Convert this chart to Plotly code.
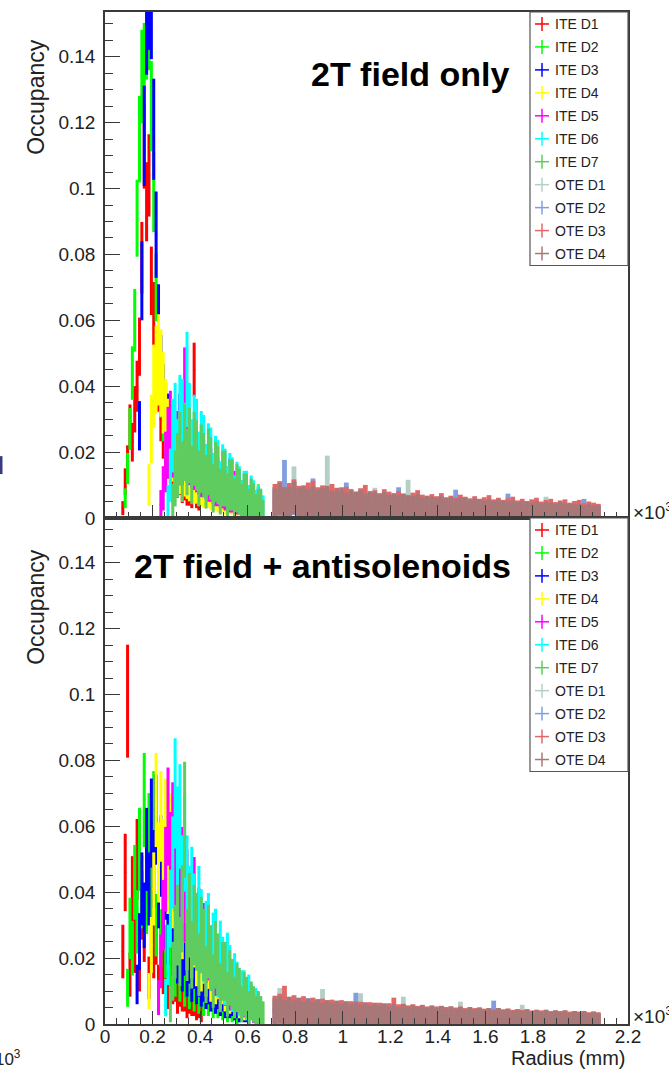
import math
import plotly.graph_objects as go

# ---------------- data (occupancy in units of 1e-3, radius in mm) ----------------
NAMES = ["ITE D1", "ITE D2", "ITE D3", "ITE D4", "ITE D5", "ITE D6", "ITE D7",
         "OTE D1", "OTE D2", "OTE D3", "OTE D4"]
COLORS = ["#ff0000", "#00ff00", "#0000ff", "#ffff00", "#ff00ff", "#00ffff", "#5fcc5f",
          "#b4cfc6", "#7f9fe0", "#e06868", "#a87878"]
BIN_MM = [10, 10, 10, 10, 10, 10, 10, 20, 20, 20, 20]

# ---- panel 1: 2T field only ----
TOP_START = [75, 85, 145, 185, 235, 265, 285, 715, 715, 715, 715]
T_ITE_D1 = [3, 11, 17, 28, 23, 33, 40, 52, 79, 113, 96, 104, 72, 62, 47, 40, 30, 24, 21, 17, 15, 13, 12, 10, 11, 8, 9, 7, 7, 6, 45, 6, 5]
T_ITE_D2 = [6, 15, 27, 44, 60, 91, 115, 134, 136, 148, 151, 125, 99, 70, 52, 38, 30, 24, 20, 18, 16, 15, 14, 14, 12, 13, 11, 12, 10, 11, 9, 10, 10, 8, 15, 9, 8, 8, 7, 7, 8, 6, 7, 6, 6, 5, 6, 5, 4, 5, 4, 4, 4, 3, 4, 3, 7, 3]
T_ITE_D3 = [28, 72, 116, 152, 160, 157, 118, 86, 60, 46, 38, 33, 30, 27, 26, 24, 23, 30, 21, 20, 19, 18, 17, 21, 25, 16, 15, 15, 14, 13, 13, 12, 17, 11, 11, 10, 10, 9, 13, 8, 8, 8, 7, 7, 6, 6, 6, 5, 5, 5, 6, 4]
T_ITE_D4 = [10, 27, 40, 45, 48, 44, 38, 31, 26, 22, 20, 18, 17, 15, 14, 14, 13, 12, 12, 11, 11, 10, 10, 9, 9, 9, 8, 8, 8, 7, 7, 7, 6, 6, 6, 6, 5, 5, 5, 5, 4, 4, 4, 4, 3, 3, 3, 3]
T_ITE_D5 = [4, 9, 17, 23, 27, 23, 21, 22, 24, 20, 38, 21, 20, 19, 18, 17, 16, 15, 15, 14, 13, 13, 12, 11, 11, 10, 10, 9, 9, 8, 8, 8, 7, 7, 6, 6, 6, 5, 5, 5, 4, 4, 3]
T_ITE_D6 = [5, 13, 25, 29, 20, 31, 30, 24, 42, 29, 20, 26, 25, 17, 22, 21, 14, 19, 18, 12, 16, 15, 10, 14, 13, 9, 12, 11, 7, 10, 9, 6, 8, 8, 5, 7, 6, 4, 5, 4, 3]
T_ITE_D7 = [5, 12, 16, 21, 14, 23, 17, 22, 13, 21, 19, 12, 18, 16, 11, 17, 15, 9, 14, 13, 8, 12, 12, 7, 10, 10, 6, 9, 8, 5, 7, 7, 4, 6, 5, 3, 4, 4, 2]
T_OTE_D1 = [4.0, 5.5, 3.8, 4.6, 9.5, 4.2, 3.6, 4.8, 3.9, 4.4, 3.5, 12.0, 3.9, 3.2, 4.1, 3.4, 3.0, 3.8, 3.3, 2.9, 3.6, 4.8, 3.0, 2.7, 3.4, 2.8, 3.2, 2.6, 6.5, 2.9, 2.5, 3.1, 2.6, 2.4, 2.9, 2.3, 2.7, 2.4, 2.2, 2.6, 2.1, 2.5, 2.2, 2.0, 2.4, 2.1, 1.9, 2.3, 2.0, 1.8, 2.2, 1.9, 1.7, 2.1, 1.8, 1.6, 2.0, 3.0, 1.7, 1.5, 1.9, 1.6, 1.5, 1.8, 1.4, 1.6, 1.3, 1.5, 1.2]
T_OTE_D2 = [5.0, 4.2, 11.0, 4.8, 5.6, 4.1, 4.9, 3.8, 6.8, 4.5, 3.7, 4.3, 3.6, 4.0, 3.4, 5.9, 3.5, 3.2, 3.9, 3.1, 3.6, 3.0, 3.4, 2.9, 3.3, 2.8, 4.9, 2.7, 3.1, 2.6, 3.0, 2.6, 2.9, 2.5, 2.8, 2.4, 2.7, 2.3, 4.4, 2.2, 2.6, 2.1, 2.5, 2.1, 2.4, 2.0, 2.3, 1.9, 2.2, 3.6, 1.9, 2.1, 1.8, 2.0, 1.7, 1.9, 1.7, 1.8, 1.6, 1.8, 1.5, 1.7, 1.5, 1.6, 1.4, 2.6, 1.4, 1.5, 1.3]
T_OTE_D3 = [5.6, 6.2, 4.9, 5.8, 6.6, 5.2, 4.7, 5.9, 6.3, 4.9, 5.3, 4.5, 5.6, 4.8, 4.2, 5.0, 4.4, 4.0, 4.7, 5.4, 3.9, 4.3, 3.7, 4.5, 4.0, 3.5, 4.1, 3.6, 3.2, 3.8, 4.3, 3.4, 3.0, 3.5, 3.1, 3.7, 2.9, 3.2, 2.8, 3.4, 3.0, 2.7, 3.1, 2.6, 2.9, 3.3, 2.5, 2.8, 2.4, 2.7, 3.0, 2.3, 2.6, 2.2, 2.5, 2.8, 2.1, 2.4, 2.6, 2.0, 2.3, 2.5, 1.9, 2.2, 2.4, 1.8, 2.1, 1.9, 1.7]
T_OTE_D4 = [4.6, 5.8, 4.9, 5.0, 6.1, 4.7, 5.3, 4.5, 5.1, 4.4, 4.8, 5.2, 4.1, 4.6, 4.9, 3.8, 4.5, 4.0, 4.3, 3.6, 4.1, 3.9, 3.5, 3.9, 3.4, 3.7, 3.2, 3.6, 3.3, 3.1, 3.5, 2.9, 3.2, 3.0, 2.8, 3.1, 2.7, 3.0, 2.6, 2.8, 2.9, 2.4, 2.7, 2.5, 2.3, 2.6, 2.2, 2.5, 2.3, 2.1, 2.4, 2.0, 2.2, 2.1, 1.9, 2.2, 1.8, 2.0, 1.9, 1.7, 2.0, 1.7, 1.8, 1.6, 1.7, 1.5, 1.6, 1.4, 1.5]
TOP_VALUES = [T_ITE_D1, T_ITE_D2, T_ITE_D3, T_ITE_D4, T_ITE_D5, T_ITE_D6, T_ITE_D7,
              T_OTE_D1, T_OTE_D2, T_OTE_D3, T_OTE_D4]
# per-series weight (per mille) used for sqrt(N)-style error bars
TOP_ERR_SCALE = [1.5, 1.5, 2.0, 4.0, 5.0, 5.0, 6.0, 4.0, 4.0, 4.0, 4.0]

# ---- panel 2: 2T field + antisolenoids ----
BOT_START = [75, 95, 135, 185, 225, 255, 275, 715, 715, 715, 715]
B_ITE_D1 = [22, 46, 98, 15, 40, 24, 50, 17, 36, 28, 43, 14, 31, 22, 27, 12, 23, 16, 19, 10, 16, 12, 13, 8, 11, 9, 9, 6, 8, 7, 7, 5, 6, 4]
B_ITE_D2 = [11, 29, 23, 43, 31, 53, 40, 68, 38, 57, 44, 63, 30, 45, 26, 33, 22, 29, 17, 23, 15, 20, 13, 18, 11, 15, 10, 14, 9, 12, 8, 11, 7, 10, 7, 9, 6, 8, 6, 7, 5, 7, 4, 6, 4, 5, 3, 4]
B_ITE_D3 = [12, 25, 41, 33, 53, 41, 61, 47, 62, 40, 51, 33, 43, 27, 35, 23, 30, 20, 27, 17, 23, 15, 20, 13, 18, 12, 15, 11, 13, 10, 12, 9, 11, 8, 10, 7, 9, 6, 8, 6, 7, 5, 6, 4, 5, 4, 4, 3]
B_ITE_D4 = [10, 24, 41, 68, 49, 63, 50, 61, 45, 57, 40, 47, 34, 41, 29, 35, 25, 30, 22, 26, 19, 23, 17, 20, 15, 18, 13, 15, 12, 14, 10, 12, 9, 11, 8, 10, 7, 9, 6, 8, 5, 6, 4, 5]
B_ITE_D5 = [8, 19, 33, 47, 63, 51, 59, 47, 53, 41, 47, 36, 41, 32, 36, 39, 29, 31, 25, 27, 21, 22, 18, 20, 16, 17, 14, 15, 12, 13, 10, 11, 9, 10, 8, 8, 7, 7, 6, 6, 4]
B_ITE_D6 = [8, 21, 35, 49, 70, 57, 63, 44, 55, 44, 36, 41, 34, 27, 36, 30, 22, 27, 29, 19, 24, 25, 16, 22, 18, 13, 19, 16, 10, 14, 12, 8, 10, 10, 6, 9, 7, 5, 6, 5, 4]
B_ITE_D7 = [6, 16, 25, 30, 22, 35, 62, 24, 33, 21, 30, 28, 18, 27, 24, 15, 25, 20, 13, 21, 18, 11, 16, 16, 9, 14, 12, 8, 11, 10, 6, 9, 8, 5, 7, 6, 4, 5, 4, 3]
B_OTE_D1 = [3.6, 6.0, 3.4, 4.1, 3.2, 3.8, 3.0, 3.5, 2.9, 3.3, 5.8, 3.1, 2.8, 3.2, 2.7, 3.0, 2.6, 2.9, 4.9, 2.7, 2.5, 2.8, 2.4, 2.6, 2.3, 2.5, 2.2, 4.2, 2.3, 2.1, 2.4, 2.0, 2.2, 1.9, 2.1, 1.8, 2.0, 1.8, 1.9, 3.2, 1.7, 1.9, 1.6, 1.8, 1.5, 1.7, 1.5, 1.6, 1.4, 1.6, 1.4, 1.5, 2.6, 1.3, 1.5, 1.3, 1.4, 1.2, 1.4, 1.2, 1.3, 1.1, 1.3, 1.1, 1.2, 1.0, 1.2, 1.0, 1.1]
B_OTE_D2 = [4.2, 3.8, 4.6, 3.5, 4.0, 3.6, 3.3, 3.9, 3.1, 3.6, 3.2, 3.4, 3.0, 3.3, 2.9, 3.1, 2.8, 5.0, 2.7, 2.9, 2.6, 2.8, 2.5, 2.7, 2.4, 2.6, 2.3, 2.5, 2.2, 2.4, 2.2, 2.3, 2.1, 2.3, 2.0, 2.2, 1.9, 2.1, 1.9, 2.0, 1.8, 1.9, 1.7, 1.9, 1.7, 1.8, 3.4, 1.7, 1.6, 1.7, 1.5, 1.6, 1.5, 1.6, 1.4, 1.5, 1.4, 1.5, 1.3, 1.4, 1.3, 1.4, 1.2, 1.3, 1.2, 1.3, 1.1, 1.2, 1.1]
B_OTE_D3 = [4.4, 4.8, 6.5, 4.1, 4.5, 3.9, 4.3, 3.7, 4.0, 3.5, 3.8, 3.4, 3.6, 3.2, 3.5, 3.1, 3.3, 3.0, 3.2, 2.9, 3.1, 2.8, 3.0, 2.7, 2.9, 4.0, 2.7, 2.8, 2.5, 2.7, 2.4, 2.6, 2.3, 2.5, 2.3, 2.4, 2.2, 2.3, 2.1, 2.3, 2.0, 2.2, 2.0, 2.1, 1.9, 2.0, 1.8, 2.0, 1.8, 1.9, 1.7, 1.8, 1.7, 1.8, 1.6, 1.7, 1.6, 1.7, 1.5, 1.6, 1.5, 1.6, 1.4, 1.5, 1.4, 1.5, 1.3, 1.4, 1.3]
B_OTE_D4 = [3.8, 4.3, 3.5, 4.2, 3.4, 4.0, 3.2, 3.8, 3.1, 3.7, 3.0, 3.5, 2.9, 3.4, 2.8, 3.3, 2.7, 3.2, 2.6, 3.1, 2.5, 3.0, 2.4, 2.9, 2.3, 2.8, 2.2, 2.7, 2.2, 2.6, 2.1, 2.5, 2.0, 2.4, 2.0, 2.4, 1.9, 2.3, 1.9, 2.2, 1.8, 2.1, 1.8, 2.1, 1.7, 2.0, 1.6, 2.0, 1.6, 1.9, 1.5, 1.8, 1.5, 1.8, 1.4, 1.7, 1.4, 1.7, 1.3, 1.6, 1.3, 1.6, 1.2, 1.5, 1.2, 1.5, 1.1, 1.4, 1.1]
BOT_VALUES = [B_ITE_D1, B_ITE_D2, B_ITE_D3, B_ITE_D4, B_ITE_D5, B_ITE_D6, B_ITE_D7,
              B_OTE_D1, B_OTE_D2, B_OTE_D3, B_OTE_D4]
BOT_ERR_SCALE = [3.0, 3.0, 3.0, 3.0, 3.5, 4.0, 5.0, 4.0, 4.0, 4.0, 4.0]

PANEL_TITLES = ["2T field only", "2T field + antisolenoids"]
X_TITLE = "Radius (mm)"
Y_TITLE = "Occupancy"

# ---------------- layout geometry ----------------
W, H = 669, 1069
ML, MR, MT, MB = 105, 41, 10, 45
PW, PH = W - ML - MR, H - MT - MB
FONT = "Liberation Sans, Arial, Helvetica, sans-serif"
AX = "#3a3a3a"
TXT = "#222222"


def px(x):
    return (x - ML) / PW


def py(y):
    return (H - MB - y) / PH


fig = go.Figure()

for values_set, starts, scales, xa, ya in [
    (TOP_VALUES, TOP_START, TOP_ERR_SCALE, "x", "y"),
    (BOT_VALUES, BOT_START, BOT_ERR_SCALE, "x2", "y2"),
]:
    for i, vals in enumerate(values_set):
        bw = BIN_MM[i]
        xs = [(starts[i] + bw * j) / 1000.0 for j in range(len(vals))]
        ys = [v / 1000.0 for v in vals]
        es = [math.sqrt(v * scales[i]) / 1000.0 for v in vals]
        thick = 3.0 if i < 7 else 4.8
        fig.add_trace(go.Scatter(
            x=xs, y=ys, mode="markers", xaxis=xa, yaxis=ya,
            name=NAMES[i], showlegend=False,
            marker=dict(size=2, color=COLORS[i]),
            error_y=dict(type="data", array=es, visible=True, width=0,
                         thickness=thick, color=COLORS[i]),
            error_x=dict(type="data", array=[bw / 2000.0] * len(vals), visible=True,
                         width=0, thickness=1.5, color=COLORS[i]),
            hoverinfo="skip",
        ))

xcommon = dict(range=[0, 2.2], tickmode="linear", tick0=0, dtick=0.2,
               ticks="inside", ticklen=13, tickwidth=1.3, tickcolor=AX,
               showline=True, linecolor=AX, linewidth=1.5, mirror=True,
               showgrid=False, zeroline=False,
               minor=dict(ticks="inside", ticklen=6, tickwidth=1, tickcolor=AX,
                          dtick=0.05, showgrid=False),
               tickfont=dict(family=FONT, size=19, color=TXT))
ycommon = dict(range=[0, 0.1536], tickmode="linear", tick0=0, dtick=0.02,
               ticks="inside", ticklen=15, tickwidth=1.3, tickcolor=AX,
               showline=True, linecolor=AX, linewidth=1.5, mirror=True,
               showgrid=False, zeroline=False, ticklabelstandoff=4,
               minor=dict(ticks="inside", ticklen=8, tickwidth=1, tickcolor=AX,
                          dtick=0.005, showgrid=False),
               tickfont=dict(family=FONT, size=19, color=TXT))

fig.update_layout(
    width=W, height=H,
    margin=dict(l=ML, r=MR, t=MT, b=MB, pad=0),
    paper_bgcolor="white", plot_bgcolor="white",
    showlegend=False,
    xaxis=dict(xcommon, anchor="y", domain=[0, 1], showticklabels=False),
    yaxis=dict(ycommon, anchor="x", domain=[0.5, 1]),
    xaxis2=dict(xcommon, anchor="y2", domain=[0, 1], showticklabels=True,
                ticklabelstandoff=-6),
    yaxis2=dict(ycommon, anchor="x2", domain=[0, 0.5]),
)

ann = []
shapes = []


def label(text, x, y, size, xanchor="center", angle=0, weight="normal", color=TXT):
    ann.append(dict(text=text, x=px(x), y=py(y), xref="paper", yref="paper",
                    xanchor=xanchor, yanchor="middle", textangle=angle, showarrow=False,
                    font=dict(family=FONT, size=size, color=color, weight=weight)))


# panel labels
label(PANEL_TITLES[0], 410, 72, 34, weight="bold", color="black")
label(PANEL_TITLES[1], 322, 565, 34, weight="bold", color="black")
# axis titles
label(Y_TITLE, 36, 95, 23, angle=-90)
label(Y_TITLE, 36, 606, 23, angle=-90)
label(X_TITLE, 627, 1058, 20, xanchor="right")
# x10^3 exponent labels
label("×10<sup>3</sup>", 631, 510, 19, xanchor="left")
label("×10<sup>3</sup>", 631, 1015, 19, xanchor="left")
label("×10<sup>3</sup>", 23, 1058, 17, xanchor="right")
# stray mark at left edge
shapes.append(dict(type="line", xref="paper", yref="paper", x0=px(1), x1=px(1),
                   y0=py(455), y1=py(473), line=dict(color="#3a3a80", width=3)))

# legends (one per panel)
for top in (10, 517):
    shapes.append(dict(type="rect", xref="paper", yref="paper", x0=px(530), x1=px(628),
                       y0=py(top), y1=py(top + 254), fillcolor="white",
                       line=dict(color="#555555", width=1.2), layer="above"))
    for k, name in enumerate(NAMES):
        yc = top + 12 + 23 * k
        shapes.append(dict(type="line", xref="paper", yref="paper", x0=px(535), x1=px(549),
                           y0=py(yc), y1=py(yc), line=dict(color=COLORS[k], width=1.5),
                           layer="above"))
        shapes.append(dict(type="line", xref="paper", yref="paper", x0=px(542), x1=px(542),
                           y0=py(yc - 7), y1=py(yc + 7), line=dict(color=COLORS[k], width=1.5),
                           layer="above"))
        label(name, 553, yc, 14, xanchor="left")

fig.update_layout(annotations=ann, shapes=shapes)
fig.write_html("out.html")
